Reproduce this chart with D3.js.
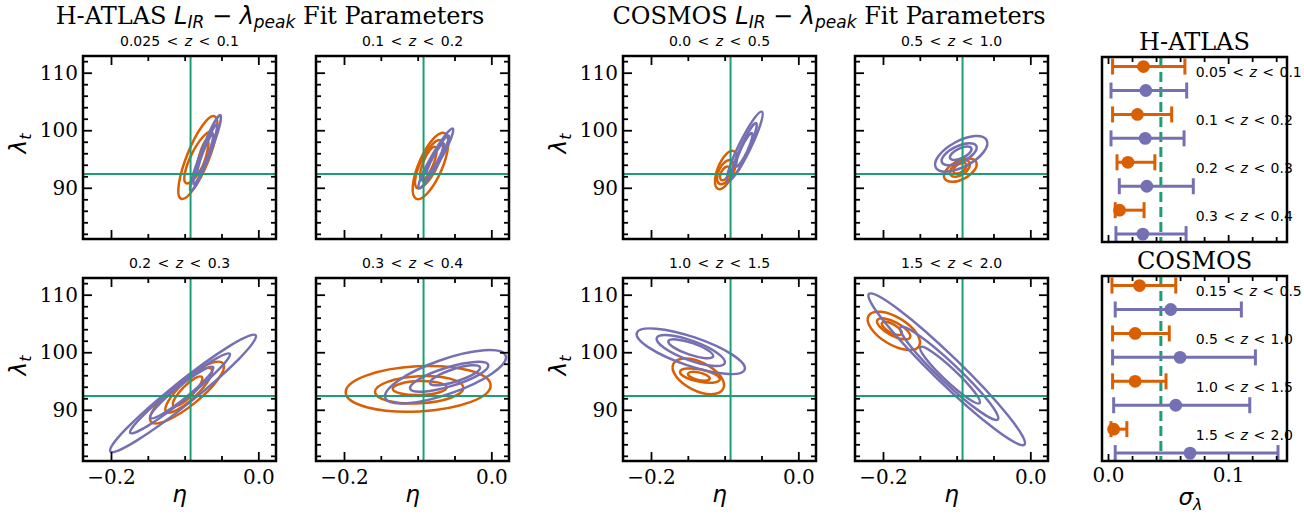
<!DOCTYPE html>
<html>
<head>
<meta charset="utf-8">
<script src="https://cdn.jsdelivr.net/npm/d3@7"></script>
<style>
  body { margin: 0; background: #fff; }
</style>
</head>
<body>
<div id="chart"></div>
<script>
// ---- data ----
const etaDomain = [-0.238, 0.024];
const lamDomain = [81.1, 112.9];
const truthEta = -0.092;
const truthLam = 92.4;

const panelLabels = ["0.025 < z < 0.1", "0.1 < z < 0.2", "0.2 < z < 0.3", "0.3 < z < 0.4",
                     "0.0 < z < 0.5", "0.5 < z < 1.0", "1.0 < z < 1.5", "1.5 < z < 2.0"];

// contour ellipses per panel: [eta centre, lambda centre, eta half width, lambda half height, tilt]
const orangeContours = [
  [[-0.0821, 95.25, 0.0265, 7.2, 0.8], [-0.0808, 95.25, 0.0197, 4.49, 0.8], [-0.0758, 95.42, 0.0079, 2.87, 0.8]],
  [[-0.0826, 93.8, 0.0242, 5.77, 0.7], [-0.0846, 94.1, 0.019, 4.2, 0.75], [-0.0856, 94.24, 0.0113, 2.9, 0.75]],
  [[-0.0968, 92.99, 0.0502, 5.36, 0.85], [-0.0945, 93.4, 0.0317, 3.9, 0.85], [-0.096, 93.2, 0.02, 2.6, 0.85]],
  [[-0.0993, 93.63, 0.0984, 3.97, 0.15], [-0.0979, 93.47, 0.06, 2.38, 0.15], [-0.0972, 93.77, 0.0367, 1.22, 0.1]],
  [[-0.0984, 93.1, 0.0147, 3.33, 0.6], [-0.099, 92.7, 0.0113, 2.1, 0.5], [-0.0995, 92.5, 0.0068, 1.2, 0.5]],
  [[-0.095, 93.07, 0.0222, 2.03, 0.5], [-0.0955, 93.35, 0.0136, 1.45, 0.5], [-0.0955, 93.4, 0.009, 0.93, 0.5]],
  [[-0.1358, 95.82, 0.0349, 3.1, -0.5], [-0.1335, 95.94, 0.027, 1.25, -0.5], [-0.135, 95.82, 0.0147, 0.78, -0.5]],
  [[-0.1853, 103.72, 0.0355, 3.33, -0.6], [-0.1855, 104.07, 0.0226, 1.83, -0.7], [-0.188, 104.15, 0.0136, 1.16, -0.7]]
];
const purpleContours = [
  [[-0.0717, 96.03, 0.021, 6.6, 0.95], [-0.072, 95.8, 0.0163, 5.2, 0.95], [-0.072, 95.8, 0.011, 3.5, 0.93]],
  [[-0.0754, 95.1, 0.0238, 5.2, 0.95], [-0.0754, 95.1, 0.018, 4.0, 0.95], [-0.076, 95.0, 0.012, 2.7, 0.93]],
  [[-0.1022, 92.85, 0.099, 10.2, 0.97], [-0.1063, 92.85, 0.0679, 6.96, 0.97], [-0.104, 93.0, 0.043, 4.5, 0.95]],
  [[-0.0622, 95.73, 0.0821, 4.64, 0.73], [-0.0572, 95.73, 0.0532, 2.6, 0.75], [-0.0493, 96.0, 0.034, 1.74, 0.75]],
  [[-0.0728, 97.13, 0.0244, 6.1, 0.93], [-0.0735, 96.6, 0.017, 4.64, 0.93], [-0.0735, 96.6, 0.0113, 2.9, 0.9]],
  [[-0.0938, 95.9, 0.0355, 3.1, 0.6], [-0.0966, 95.83, 0.0238, 1.9, 0.6], [-0.0945, 96.0, 0.0147, 1.16, 0.6]],
  [[-0.146, 100.17, 0.0735, 3.97, -0.75], [-0.146, 100.3, 0.0464, 2.7, -0.75], [-0.146, 100.6, 0.0305, 1.65, -0.75]],
  [[-0.1135, 97.04, 0.1063, 13.2, -0.97], [-0.1101, 96.33, 0.0667, 8.1, -0.96], [-0.109, 96.03, 0.0407, 4.93, -0.95]]
];

const sigmaDomain = [-0.005, 0.149];
const sigmaTruth = 0.044;
const hatlasRows = ["0.05 < z < 0.1", "0.1 < z < 0.2", "0.2 < z < 0.3", "0.3 < z < 0.4"];
const cosmosRows = ["0.15 < z < 0.5", "0.5 < z < 1.0", "1.0 < z < 1.5", "1.5 < z < 2.0"];
// [value, low, high]
const hatlasOrange = [[0.0295, 0.0038, 0.064], [0.0245, 0.0038, 0.053], [0.0166, 0.0075, 0.039], [0.0096, 0.006, 0.030]];
const hatlasPurple = [[0.0315, 0.0025, 0.0655], [0.031, 0.0025, 0.0633], [0.0323, 0.0094, 0.071], [0.029, 0.0066, 0.065]];
const cosmosOrange = [[0.0262, 0.0033, 0.0564], [0.0226, 0.0038, 0.051], [0.0226, 0.0038, 0.0483], [0.0047, 0.0025, 0.0157]];
const cosmosPurple = [[0.0522, 0.006, 0.111], [0.06, 0.0038, 0.1227], [0.0564, 0.0047, 0.118], [0.0683, 0.006, 0.1415]];

const etaMajor = [-0.2, 0.0];
const etaMinor = [-0.15, -0.1, -0.05];
const lamMajor = [90, 100, 110];
const lamMinor = [82, 84, 86, 88, 92, 94, 96, 98, 102, 104, 106, 108, 112];
const sigmaMajor = [0.0, 0.1];
const sigmaMinor = [0.02, 0.04, 0.06, 0.08, 0.12, 0.14];

// ---- layout ----
const W = 1304, H = 518;
const ORANGE = "#d95f02", PURPLE = "#7570b3", GREEN = "#1b9e77";
const SERIF = "'DejaVu Serif', serif";
const SANS = "'DejaVu Sans', sans-serif";

const colX = [83, 316, 623, 855];
const rowY = [56, 278];
const pw = 193, ph = 183;

const svg = d3.select("#chart").append("svg")
  .attr("width", W).attr("height", H)
  .style("background", "#fff");

const defs = svg.append("defs");

// writes "a < z < b" with an italic z
const zLabel = (sel, txt) => {
  const parts = txt.split("z");
  sel.append("tspan").text(parts[0]);
  sel.append("tspan").attr("font-style", "italic").text("z");
  sel.append("tspan").text(parts[1]);
};

const ellipseOf = (c, x, y) => {
  const [cx, cy, hx, hy, rho] = c;
  const sx = hx * (x(1) - x(0));
  const sy = hy * (y(1) - y(0));
  const a = sx * sx, cc = sy * sy, b = rho * sx * sy;
  const m = (a + cc) / 2, d = Math.sqrt(((a - cc) / 2) ** 2 + b * b);
  const th = 0.5 * Math.atan2(2 * b, a - cc);
  return { cx: x(cx), cy: y(cy), rx: Math.sqrt(m + d), ry: Math.sqrt(Math.max(m - d, 0.05)), ang: th * 180 / Math.PI };
};

const styleTicks = g => {
  g.select(".domain").remove();
  g.selectAll(".tick line").attr("stroke", "#000").attr("stroke-width", 1.8);
  g.selectAll(".tick text").attr("font-family", SERIF).attr("font-size", 20).attr("fill", "#000");
};

panelLabels.forEach((label, i) => {
  const survey = Math.floor(i / 4), j = i % 4;
  const col = survey * 2 + (j % 2), row = Math.floor(j / 2);
  const g = svg.append("g").attr("transform", `translate(${colX[col]},${rowY[row]})`);

  const x = d3.scaleLinear().domain(etaDomain).range([0, pw]);
  const y = d3.scaleLinear().domain(lamDomain).range([ph, 0]);

  defs.append("clipPath").attr("id", "clip" + i)
    .append("rect").attr("width", pw).attr("height", ph);

  const plot = g.append("g").attr("clip-path", `url(#clip${i})`);

  [[orangeContours[i], ORANGE], [purpleContours[i], PURPLE]].forEach(([set, color]) => {
    plot.selectAll(null)
      .data(set.map(c => ellipseOf(c, x, y)))
      .join("ellipse")
      .attr("cx", 0).attr("cy", 0)
      .attr("rx", e => e.rx).attr("ry", e => e.ry)
      .attr("transform", e => `translate(${e.cx},${e.cy}) rotate(${e.ang})`)
      .attr("fill", "none")
      .attr("stroke", color)
      .attr("stroke-width", 2.5);
  });

  plot.append("line")
    .attr("x1", x(truthEta)).attr("x2", x(truthEta))
    .attr("y1", 0).attr("y2", ph)
    .attr("stroke", GREEN).attr("stroke-width", 2);
  plot.append("line")
    .attr("x1", 0).attr("x2", pw)
    .attr("y1", y(truthLam)).attr("y2", y(truthLam))
    .attr("stroke", GREEN).attr("stroke-width", 2);

  // ticks on all four sides, pointing in
  const showX = row === 1, showY = col % 2 === 0;
  const fmt = d3.format(".1f");
  g.append("g").attr("transform", `translate(0,${ph})`)
    .call(d3.axisBottom(x).tickValues(etaMajor).tickSize(-9).tickPadding(9)
      .tickFormat(showX ? fmt : ""))
    .call(styleTicks);
  g.append("g").attr("transform", `translate(0,${ph})`)
    .call(d3.axisBottom(x).tickValues(etaMinor).tickSize(-5).tickFormat(""))
    .call(styleTicks);
  g.append("g")
    .call(d3.axisTop(x).tickValues(etaMajor).tickSize(-9).tickFormat(""))
    .call(styleTicks);
  g.append("g")
    .call(d3.axisTop(x).tickValues(etaMinor).tickSize(-5).tickFormat(""))
    .call(styleTicks);
  g.append("g")
    .call(d3.axisLeft(y).tickValues(lamMajor).tickSize(-9).tickPadding(5)
      .tickFormat(showY ? d3.format("d") : ""))
    .call(styleTicks);
  g.append("g")
    .call(d3.axisLeft(y).tickValues(lamMinor).tickSize(-5).tickFormat(""))
    .call(styleTicks);
  g.append("g").attr("transform", `translate(${pw},0)`)
    .call(d3.axisRight(y).tickValues(lamMajor).tickSize(-9).tickFormat(""))
    .call(styleTicks);
  g.append("g").attr("transform", `translate(${pw},0)`)
    .call(d3.axisRight(y).tickValues(lamMinor).tickSize(-5).tickFormat(""))
    .call(styleTicks);

  g.append("rect").attr("width", pw).attr("height", ph)
    .attr("fill", "none").attr("stroke", "#000").attr("stroke-width", 2.5);

  g.append("text")
    .attr("x", pw / 2).attr("y", -10)
    .attr("text-anchor", "middle")
    .attr("font-family", SANS).attr("font-size", 14)
    .attr("word-spacing", 2)
    .call(zLabel, label);

  if (showY) {
    const t = g.append("text")
      .attr("transform", `translate(-57,${ph / 2 - 4}) rotate(-90)`)
      .attr("text-anchor", "middle")
      .attr("font-family", SANS).attr("font-size", 23).attr("font-style", "italic");
    t.append("tspan").text("λ");
    t.append("tspan").attr("font-size", 16).attr("dy", 5).text("t");
  }
  if (showX) {
    g.append("text")
      .attr("x", pw / 2).attr("y", ph + 41)
      .attr("text-anchor", "middle")
      .attr("font-family", SANS).attr("font-size", 23).attr("font-style", "italic")
      .text("η");
  }
});

// ---- figure titles ----
const bigTitle = (cx, name) => {
  const t = svg.append("text")
    .attr("x", cx).attr("y", 24)
    .attr("text-anchor", "middle")
    .attr("font-family", SERIF).attr("font-size", 24);
  t.append("tspan").text(name + " ");
  t.append("tspan").attr("font-family", SANS).attr("font-style", "italic").text("L");
  t.append("tspan").attr("font-family", SANS).attr("font-style", "italic").attr("font-size", 17).attr("dy", 4).text("IR");
  t.append("tspan").attr("font-family", SANS).attr("dy", -4).text(" − ");
  t.append("tspan").attr("font-family", SANS).attr("font-style", "italic").text("λ");
  t.append("tspan").attr("font-family", SANS).attr("font-style", "italic").attr("font-size", 17).attr("dy", 4).text("peak");
  t.append("tspan").attr("dy", -4).text(" Fit Parameters");
};
bigTitle(270, "H-ATLAS");
bigTitle(829, "COSMOS");

// ---- scatter panels ----
const rx0 = 1102, rw = 185, rh = 185;
const rightTops = [57, 276];
const sx = d3.scaleLinear().domain(sigmaDomain).range([0, rw]);
const ry = d3.scaleLinear().domain([-0.4, 7.33]).range([0, rh]);

[[hatlasRows, hatlasOrange, hatlasPurple, "H-ATLAS"],
 [cosmosRows, cosmosOrange, cosmosPurple, "COSMOS"]].forEach(([rows, oranges, purples, name], k) => {
  const g = svg.append("g").attr("transform", `translate(${rx0},${rightTops[k]})`);

  const pts = [];
  rows.forEach((r, i) => {
    pts.push({ v: oranges[i], pos: 2 * i, color: ORANGE });
    pts.push({ v: purples[i], pos: 2 * i + 1, color: PURPLE });
  });

  g.append("line")
    .attr("x1", sx(sigmaTruth)).attr("x2", sx(sigmaTruth))
    .attr("y1", 0).attr("y2", rh)
    .attr("stroke", GREEN).attr("stroke-width", 3)
    .attr("stroke-dasharray", "10,5");

  const bars = g.selectAll(".bar").data(pts).join("g").attr("class", "bar");
  bars.append("line")
    .attr("x1", d => sx(d.v[1])).attr("x2", d => sx(d.v[2]))
    .attr("y1", d => ry(d.pos)).attr("y2", d => ry(d.pos))
    .attr("stroke", d => d.color).attr("stroke-width", 3);
  bars.selectAll(".cap").data(d => [d.v[1], d.v[2]].map(c => ({ c, d })))
    .join("line").attr("class", "cap")
    .attr("x1", e => sx(e.c)).attr("x2", e => sx(e.c))
    .attr("y1", e => ry(e.d.pos) - 8).attr("y2", e => ry(e.d.pos) + 8)
    .attr("stroke", e => e.d.color).attr("stroke-width", 3);
  bars.append("circle")
    .attr("cx", d => sx(d.v[0])).attr("cy", d => ry(d.pos))
    .attr("r", 6.4).attr("fill", d => d.color);

  g.append("g").attr("transform", `translate(0,${rh})`)
    .call(d3.axisBottom(sx).tickValues(sigmaMajor).tickSize(-7).tickPadding(7)
      .tickFormat(k === 1 ? d3.format(".1f") : ""))
    .call(styleTicks);
  g.append("g").attr("transform", `translate(0,${rh})`)
    .call(d3.axisBottom(sx).tickValues(sigmaMinor).tickSize(-5).tickFormat(""))
    .call(styleTicks);
  g.append("g")
    .call(d3.axisTop(sx).tickValues(sigmaMajor).tickSize(-7).tickFormat(""))
    .call(styleTicks);
  g.append("g")
    .call(d3.axisTop(sx).tickValues(sigmaMinor).tickSize(-5).tickFormat(""))
    .call(styleTicks);

  g.append("rect").attr("width", rw).attr("height", rh)
    .attr("fill", "none").attr("stroke", "#000").attr("stroke-width", 2.5);

  g.selectAll(".lab").data(rows).join("text").attr("class", "lab")
    .attr("x", sx(0.073)).attr("y", (d, i) => ry(2 * i + 0.25))
    .attr("dy", "0.35em")
    .attr("font-family", SANS).attr("font-size", 14)
    .attr("word-spacing", 1)
    .each(function (d) { d3.select(this).call(zLabel, d); });

  g.append("text")
    .attr("x", rw / 2).attr("y", -7)
    .attr("text-anchor", "middle")
    .attr("font-family", SERIF).attr("font-size", 24)
    .text(name);
});

const sl = svg.append("text")
  .attr("x", rx0 + rw / 2 - 4).attr("y", 505)
  .attr("text-anchor", "middle")
  .attr("font-family", SANS).attr("font-size", 23).attr("font-style", "italic");
sl.append("tspan").text("σ");
sl.append("tspan").attr("font-size", 16).attr("dy", 5).text("λ");
</script>
</body>
</html>
